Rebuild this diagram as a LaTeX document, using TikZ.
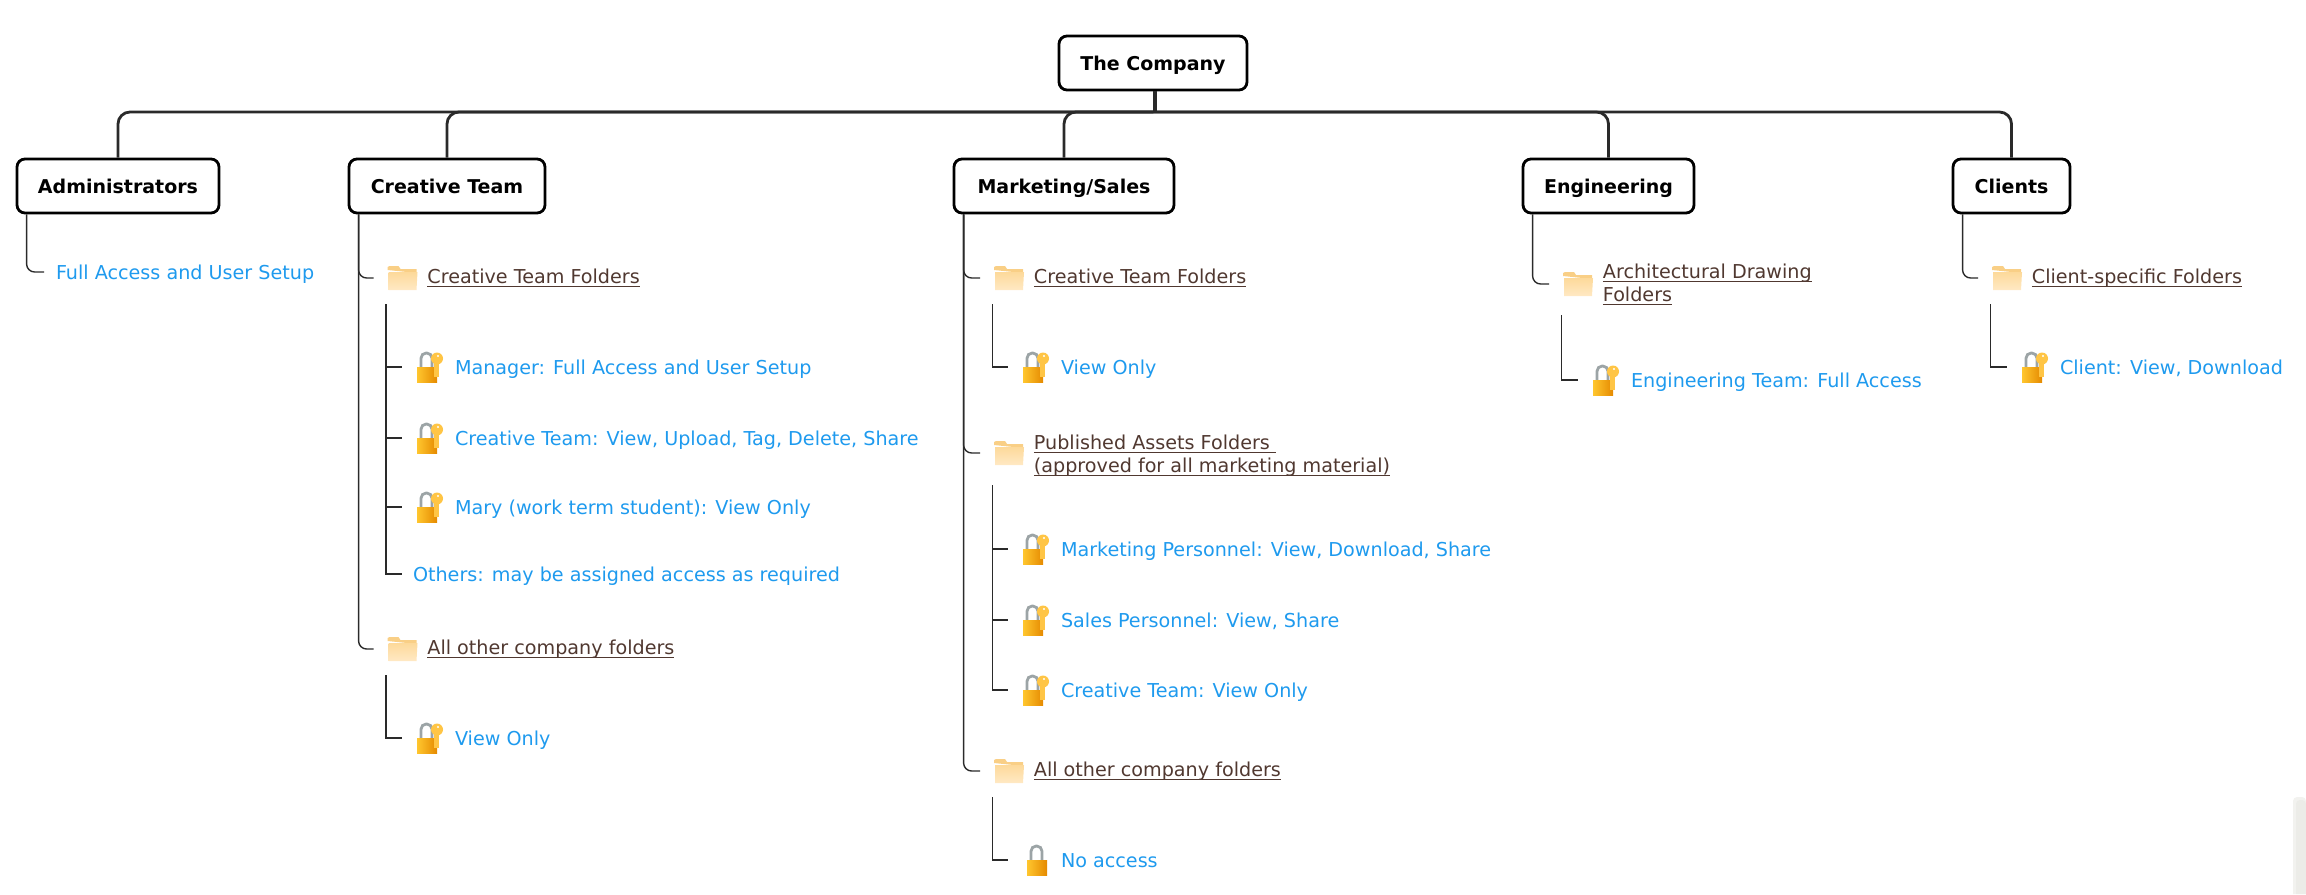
\documentclass[tikz,border=0pt]{standalone}
\usepackage{fontspec}
\setmainfont{DejaVu Sans}
\definecolor{wirecol}{HTML}{2A2A2A}
\definecolor{leafblue}{HTML}{1E9AEE}
\definecolor{linkbrown}{HTML}{503830}
\definecolor{panelgray}{HTML}{ECECE8}
\definecolor{foldertab}{HTML}{F9CF86}
\definecolor{foldertop}{HTML}{FDD99A}
\definecolor{folderbot}{HTML}{FFE9C4}
\definecolor{lockleft}{HTML}{FFC62E}
\definecolor{lockright}{HTML}{E58A00}
\definecolor{keygold}{HTML}{FFC545}
\definecolor{shacklegray}{HTML}{9CA4A6}
\newcommand{\linkline}[1]{\underline{\smash{#1}\vphantom{T}}}
\tikzset{
	teambox/.style={draw=black,line width=1.4pt,rounded corners=4pt,fill=white,font=\fontsize{9.5}{11}\selectfont\bfseries,text=black,minimum height=27pt,inner xsep=2pt,text height=9.3pt,text depth=2.3pt},
	buswire/.style={draw=wirecol,line width=1.4pt,rounded corners=6pt},
	treewire/.style={draw=wirecol,line width=0.7pt,rounded corners=4pt},
	subwire/.style={draw=wirecol,line width=0.7pt},
	iconslot/.style={inner sep=0pt,minimum height=12pt,outer sep=7pt},
	leaftext/.style={anchor=west,inner sep=0pt,outer sep=0pt,text=leafblue,font=\fontsize{9.58}{11}\selectfont,text height=8.5pt,text depth=1.5pt},
	linktext/.style={anchor=west,inner sep=0pt,text=linkbrown,align=left,yshift=-0.5pt,font=\fontsize{9.58}{11.6}\selectfont},
	pics/foldericon/.style={code={
		\fill[foldertab] (-15,-8) -- (-15,-11) -- (-13,-12) -- (-4,-12) -- (-2,-9) -- (14,-9) -- (14,-5) -- cycle;
		\shade[top color=foldertop,bottom color=folderbot] (-14,-6) -- (15,-6) -- (14,12) -- (-14,12) -- cycle;
	}},
	pics/padlock/.style={code={
		\draw[shacklegray,line width=1.4pt,rounded corners=2.6pt] (-9,1) -- (-9,-14) -- (2,-14) -- (2,1);
		\shade[left color=lockleft,right color=lockright] (-13,0) rectangle (7,15);
	}},
	pics/padkey/.style={code={
		\fill[keygold] (4,-4) rectangle (9,10);
		\fill[keygold] (7,-8.5) circle (3pt);
		\fill[white] (8,-11) circle (0.6pt);
	}},
}
% folder with its label: text shift, name, x, y, text
\newcommand{\folderitem}[5][0pt]{
	\node[iconslot,minimum width=15pt] (#2) at (#3,#4) {};
	\pic at (#3,#4) {foldericon};
	\node[linktext,yshift=#1] (#2Text) at ({#3+24.5},#4) {#5};
}
% lock with its label: name, x, y, text
\newcommand{\lockitem}[4]{
	\node[iconslot,minimum width=13pt,outer sep=7.5pt] (#1) at (#2,#3) {};
	\pic at (#2,#3) {padlock};
	\pic at (#2,#3) {padkey};
	\node[leaftext] (#1Text) at ({#2+25},#3) {#4};
}
\begin{document}
\begin{tikzpicture}[x=0.5pt,y=-0.5pt]
	\useasboundingbox (0,0) rectangle (2306,894);
	% --- Parameters ---
	\def\busy{112}   % height of the bus line
	\def\subx{6.25pt} % inset of a sub tree from its folder
	% Panel in the corner
	\fill[panelgray!70!white,rounded corners=2pt] (2293,894) -- (2293,797) -- (2306,797) -- (2306,894);
	\fill[panelgray,rounded corners=2pt] (2296,894) -- (2296,800) -- (2306,800) -- (2306,894);
	% --- Top row ---
	\node[teambox,minimum width=94pt] (company) at (1153,63) {The Company};
	\node[teambox,minimum width=101pt] (admin) at (118,186) {Administrators};
	\node[teambox,minimum width=98pt] (creative) at (447,186) {Creative Team};
	\node[teambox,minimum width=110pt] (marketing) at (1064,186) {Marketing/Sales};
	\node[teambox,minimum width=85.5pt] (engineering) at (1608.5,186) {Engineering};
	\node[teambox,minimum width=58.5pt] (clients) at (2011.5,186) {Clients};
	% Bus line
	\draw[buswire,line width=2pt] ([xshift=1pt]company.south) -- ++(0,22);
	\foreach \teamname in {admin,creative,marketing,engineering,clients}
		\draw[buswire] (company.south |- 0,\busy) -| (\teamname.north);
	% --- Administrators ---
	\node[leaftext,outer sep=6pt] (adminFull) at (44,272) {Full Access and User Setup};
	\draw[treewire] ([xshift=5.5pt]admin.south west) |- (adminFull.west);
	% --- Creative Team ---
	\folderitem{ctFolder}{402.5}{278}{\linkline{Creative Team Folders}}
	\lockitem{ctManager}{430}{367}{Manager: Full Access and User Setup}
	\lockitem{ctTeam}{430}{438}{Creative Team: View, Upload, Tag, Delete, Share}
	\lockitem{ctMary}{430}{507}{Mary (work term student): View Only}
	\node[leaftext,outer sep=5.5pt] (ctOthers) at (402,574) {Others: may be assigned access as required};
	\folderitem{ctOther}{402.5}{649}{\linkline{All other company folders}}
	\lockitem{ctOtherView}{430}{738}{View Only}
	\draw[treewire] ([xshift=5.5pt]creative.south west) |- (ctFolder.west);
	\draw[treewire] ([xshift=5.5pt]creative.south west) |- (ctOther.west);
	\foreach \leafname in {ctManager,ctTeam,ctMary,ctOthers}
		\draw[subwire] ([xshift=\subx]ctFolder.south west) |- (\leafname.west);
	\draw[subwire] ([xshift=\subx]ctOther.south west) |- (ctOtherView.west);
	% --- Marketing/Sales ---
	\folderitem{msCreative}{1009}{278}{\linkline{Creative Team Folders}}
	\lockitem{msCreativeView}{1036}{367}{View Only}
	\folderitem[-1pt]{msPublished}{1009}{453}{\linkline{Published Assets Folders\ }\\\linkline{(approved for all marketing material)}}
	\lockitem{msPersonnel}{1036}{549}{Marketing Personnel: View, Download, Share}
	\lockitem{msSales}{1036}{620}{Sales Personnel: View, Share}
	\lockitem{msTeam}{1036}{690}{Creative Team: View Only}
	\folderitem{msOther}{1009}{771}{\linkline{All other company folders}}
	% plain lock, no key on it
	\node[iconslot,minimum width=13pt,outer sep=7.5pt] (msNone) at (1036,860) {};
	\pic at (1040,860) {padlock};
	\node[leaftext] (msNoneText) at (1061,860) {No access};
	\foreach \foldername in {msCreative,msPublished,msOther}
		\draw[treewire] ([xshift=5.5pt]marketing.south west) |- (\foldername.west);
	\draw[subwire] ([xshift=\subx]msCreative.south west) |- (msCreativeView.west);
	\foreach \leafname in {msPersonnel,msSales,msTeam}
		\draw[subwire] ([xshift=\subx,yshift=-3pt]msPublished.south west) |- (\leafname.west);
	\draw[subwire] ([xshift=\subx]msOther.south west) |- (msNone.west);
	% --- Engineering ---
	\folderitem{enFolder}{1578}{284}{\linkline{Architectural Drawing}\\\linkline{Folders}}
	\lockitem{enTeam}{1606}{380}{Engineering Team: Full Access}
	\draw[treewire] ([xshift=5.5pt]engineering.south west) |- (enFolder.west);
	\draw[subwire] ([xshift=\subx,yshift=-2.5pt]enFolder.south west) |- (enTeam.west);
	% --- Clients ---
	\folderitem{clFolder}{2007}{278}{\linkline{Client-specific Folders}}
	\lockitem{clClient}{2035}{367}{Client: View, Download}
	\draw[treewire] ([xshift=5.5pt]clients.south west) |- (clFolder.west);
	\draw[subwire] ([xshift=\subx]clFolder.south west) |- (clClient.west);
\end{tikzpicture}
\end{document}
